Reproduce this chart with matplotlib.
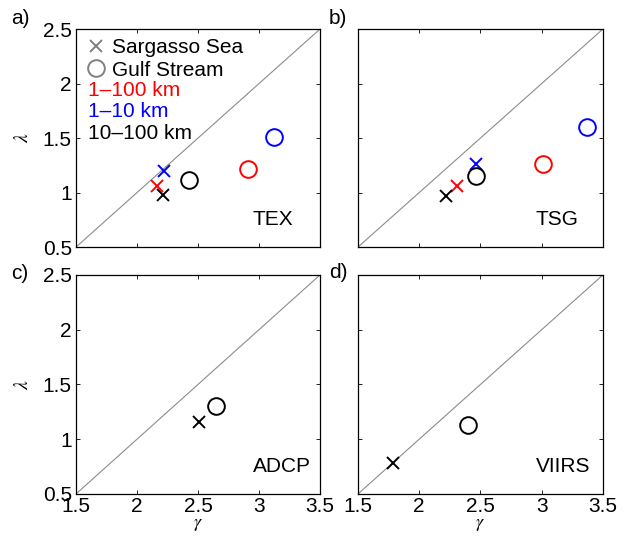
import matplotlib
matplotlib.use("Agg")
import matplotlib.pyplot as plt
from matplotlib.lines import Line2D

plt.rcParams['font.family'] = ['Liberation Sans', 'DejaVu Sans']
plt.rcParams['mathtext.fontset'] = 'stix'

# scale bands: 1-100 km, 1-10 km, 10-100 km
band_colors = ['red', 'blue', 'black']
band_labels = ['1\u2013100 km', '1\u201310 km', '10\u2013100 km']

# TEX
tex_ss_gamma = [2.16, 2.22, 2.21]
tex_ss_lambda = [1.06, 1.20, 0.98]
tex_gs_gamma = [2.91, 3.12, 2.43]
tex_gs_lambda = [1.22, 1.51, 1.12]

# TSG
tsg_ss_gamma = [2.31, 2.46, 2.22]
tsg_ss_lambda = [1.06, 1.26, 0.97]
tsg_gs_gamma = [3.01, 3.37, 2.46]
tsg_gs_lambda = [1.26, 1.60, 1.15]

# ADCP and VIIRS (10-100 km only)
adcp_ss = (2.51, 1.16)
adcp_gs = (2.65, 1.30)
viirs_ss = (1.79, 0.78)
viirs_gs = (2.40, 1.13)

W, H = 628, 536
fig = plt.figure(figsize=(W / 100, H / 100), dpi=100)
w1, w2 = 0.3885, 0.390
axa = fig.add_axes([0.121, 0.539, w1, 0.4067])
axb = fig.add_axes([0.570, 0.539, w2, 0.4067])
axc = fig.add_axes([0.121, 0.0784, w1, 0.4086])
axd = fig.add_axes([0.570, 0.0784, w2, 0.4086])

fs = 15
xms, oms, mew = 8, 12, 1.4

def setup(ax, name, letter, lx, ly):
    ax.plot([1.5, 3.5], [0.5, 2.5], color='0.55', lw=0.8, zorder=1)
    ax.set_xlim(1.5, 3.5)
    ax.set_ylim(0.5, 2.5)
    ax.set_xticks([1.5, 2, 2.5, 3, 3.5])
    ax.set_yticks([0.5, 1, 1.5, 2, 2.5])
    ax.set_xticklabels(['1.5', '2', '2.5', '3', '3.5'])
    ax.set_yticklabels(['0.5', '1', '1.5', '2', '2.5'])
    ax.tick_params(direction='in', length=3, width=0.6, top=True, right=True,
                   labelsize=fs, pad=3)
    ax.tick_params(axis='x', pad=2)
    for s in ax.spines.values():
        s.set_linewidth(0.9)
    ax.text(2.95, 0.75, name, fontsize=fs, va='center', ha='left')
    fig.text(lx / W, 1 - ly / H, letter, fontsize=fs, va='center', ha='left')

def scatter_bands(ax, ssg, ssl, gsg, gsl):
    for c, a, b in zip(band_colors, ssg, ssl):
        ax.plot(a, b, 'x', color=c, ms=xms, mew=mew, zorder=3)
    for c, a, b in zip(band_colors, gsg, gsl):
        ax.plot(a, b, 'o', color=c, ms=oms, mew=mew, mfc='none', zorder=3)

setup(axa, 'TEX', 'a)', 11, 18)
setup(axb, 'TSG', 'b)', 329, 18)
setup(axc, 'ADCP', 'c)', 11, 273)
setup(axd, 'VIIRS', 'd)', 329, 272)

scatter_bands(axa, tex_ss_gamma, tex_ss_lambda, tex_gs_gamma, tex_gs_lambda)
scatter_bands(axb, tsg_ss_gamma, tsg_ss_lambda, tsg_gs_gamma, tsg_gs_lambda)
for ax, ss, gs in [(axc, adcp_ss, adcp_gs), (axd, viirs_ss, viirs_gs)]:
    ax.plot(*ss, 'x', color='black', ms=xms, mew=mew, zorder=3)
    ax.plot(*gs, 'o', color='black', ms=oms, mew=mew, mfc='none', zorder=3)

axa.tick_params(labelbottom=False)
axb.tick_params(labelbottom=False, labelleft=False)
axd.tick_params(labelleft=False)

for ax in (axa, axc):
    ax.set_ylabel(r'$\lambda$', fontsize=14, rotation=90, labelpad=8)
for ax in (axc, axd):
    ax.set_xlabel(r'$\gamma$', fontsize=13, labelpad=0)

handles = [Line2D([], [], ls='none', marker='x', color='0.5', ms=xms, mew=mew),
           Line2D([], [], ls='none', marker='o', color='0.5', ms=oms, mew=mew, mfc='none')]
axa.legend(handles, ['Sargasso Sea', 'Gulf Stream'], loc='upper left',
           bbox_to_anchor=(0.0, 1.0), frameon=False, fontsize=fs,
           handlelength=1.0, handletextpad=0.3, labelspacing=0.15,
           borderpad=0.25, borderaxespad=0.2)
for i, (lab, c) in enumerate(zip(band_labels, band_colors)):
    axa.text(0.049, 0.72 - i * 0.099, lab, color=c, fontsize=fs,
             transform=axa.transAxes, va='center', ha='left')

fig.savefig('out.png', dpi=100)
